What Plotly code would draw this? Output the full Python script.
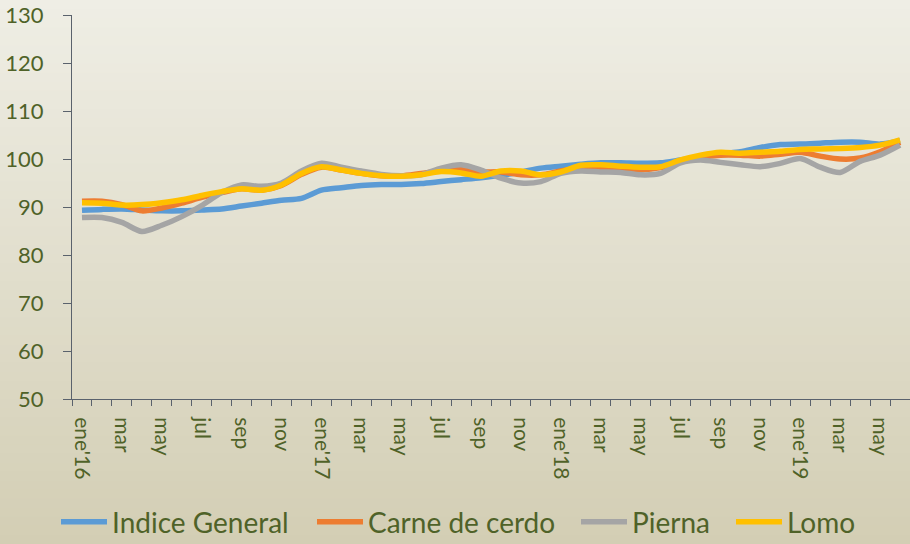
import plotly.graph_objects as go

months = ["ene'16", "feb", "mar", "abr", "may", "jun", "jul", "ago", "sep", "oct", "nov", "dic",
          "ene'17", "feb", "mar", "abr", "may", "jun", "jul", "ago", "sep", "oct", "nov", "dic",
          "ene'18", "feb", "mar", "abr", "may", "jun", "jul", "ago", "sep", "oct", "nov", "dic",
          "ene'19", "feb", "mar", "abr", "may", "jun"]

indice_general = [89.3, 89.5, 89.6, 89.4, 89.2, 89.2, 89.4, 89.6, 90.2, 90.8, 91.4, 91.8,
                  93.5, 94.0, 94.5, 94.7, 94.7, 94.9, 95.3, 95.7, 96.1, 96.6, 97.3, 98.1,
                  98.5, 98.9, 99.2, 99.2, 99.1, 99.2, 99.8, 100.4, 101.1, 101.5, 102.4, 103.0,
                  103.1, 103.3, 103.5, 103.5, 103.1, 103.8]
carne_cerdo = [91.2, 91.2, 90.5, 89.2, 89.8, 90.8, 92.0, 93.0, 93.8, 93.5, 94.5, 96.8,
               98.3, 97.7, 97.0, 96.5, 96.5, 97.0, 97.5, 97.8, 97.3, 97.3, 96.7, 96.7,
               97.5, 98.2, 98.2, 97.8, 97.7, 98.2, 99.4, 100.3, 100.8, 100.8, 100.6, 101.0,
               101.4, 100.6, 100.0, 100.2, 101.5, 103.5]
pierna = [87.8, 87.8, 86.8, 84.9, 86.2, 88.0, 90.3, 93.0, 94.6, 94.3, 95.0, 97.5,
          99.1, 98.3, 97.5, 96.8, 96.5, 96.7, 98.1, 98.8, 97.7, 96.0, 95.0, 95.3,
          97.0, 97.5, 97.3, 97.2, 96.7, 97.0, 99.2, 99.8, 99.3, 98.8, 98.4, 99.1,
          100.1, 98.3, 97.2, 99.5, 100.8, 102.9]
lomo = [90.9, 90.8, 90.4, 90.5, 90.9, 91.5, 92.4, 93.2, 93.8, 93.5, 94.6, 97.0,
        98.4, 97.7, 97.0, 96.5, 96.4, 96.7, 97.4, 97.1, 96.4, 97.5, 97.5, 96.7,
        97.3, 98.7, 98.8, 98.5, 98.3, 98.4, 99.8, 100.8, 101.4, 101.2, 101.4, 101.6,
        102.0, 102.1, 102.2, 102.4, 102.9, 104.0]

series_names = ["Indice General", "Carne de cerdo", "Pierna", "Lomo"]
series_values = [indice_general, carne_cerdo, pierna, lomo]
series_colors = ["#5B9BD5", "#ED7D31", "#A5A5A5", "#FFC000"]

x = list(range(len(months)))
tick_idx = list(range(0, len(months), 2))
tick_text = [months[i] for i in tick_idx]

text_color = "#4F6228"
axis_color = "#5A626C"
font_family = "Lato, 'Open Sans', sans-serif"

W, H = 910, 544
ml, mr, mt, mb = 72, 0, 15, 145
pw, ph = W - ml - mr, H - mt - mb

# pixel left edges of each legend entry
legend_left_px = [56, 312, 576, 731]
legend_ids = ["legend", "legend2", "legend3", "legend4"]

fig = go.Figure()
for name, vals, col, lid in zip(series_names, series_values, series_colors, legend_ids):
    fig.add_trace(go.Scatter(x=x, y=vals, name=name, mode="lines", legend=lid,
                             line=dict(color=col, width=5.5, shape="spline", smoothing=0.8)))

# background gradient bands
top = (239, 238, 229)
bot = (211, 206, 180)
n = 60
shapes = []
for k in range(n):
    t = (k + 0.5) / n
    c = tuple(round(top[j] + (bot[j] - top[j]) * t) for j in range(3))
    y0_px = H * k / n
    y1_px = H * (k + 1) / n + 1
    shapes.append(dict(type="rect", xref="paper", yref="paper", layer="below",
                       x0=-ml / pw, x1=1 + mr / pw + 0.01,
                       y0=(H - mb - y1_px) / ph, y1=(H - mb - y0_px) / ph,
                       line=dict(width=0), fillcolor="rgb(%d,%d,%d)" % c))

legend_common = dict(orientation="h", xanchor="left", y=(H - mb - 522) / ph, yanchor="middle",
                     font=dict(size=28, color=text_color), itemwidth=46,
                     bgcolor="rgba(0,0,0,0)")
legends = {lid: dict(legend_common, x=(px - ml) / pw) for lid, px in zip(legend_ids, legend_left_px)}

fig.update_layout(
    width=W, height=H,
    margin=dict(l=ml, r=mr, t=mt, b=mb, autoexpand=False),
    paper_bgcolor="rgb(226,223,206)",
    plot_bgcolor="rgba(0,0,0,0)",
    shapes=shapes,
    font=dict(family=font_family, color=text_color),
    showlegend=True,
    xaxis=dict(range=[-0.5, len(months) - 0.5], tickmode="array", tickvals=tick_idx,
               ticktext=tick_text, tickangle=90, ticks="", showgrid=False, zeroline=False,
               showline=True, linecolor=axis_color, linewidth=1, automargin=False,
               ticklabelstandoff=13,
               tickfont=dict(size=21, color=text_color),
               minor=dict(tick0=-0.5, dtick=1, ticks="outside", ticklen=6,
                          tickcolor=axis_color, showgrid=False)),
    yaxis=dict(range=[50, 130], dtick=10, ticks="outside", ticklen=8, tickcolor=axis_color,
               showgrid=False, zeroline=False, showline=True, linecolor=axis_color,
               linewidth=1, automargin=False, ticklabelstandoff=15,
               tickfont=dict(size=22, color=text_color)),
    **legends,
)

fig.write_html("out.html", config={"displayModeBar": False},
               post_script="document.body.style.margin='0';")
